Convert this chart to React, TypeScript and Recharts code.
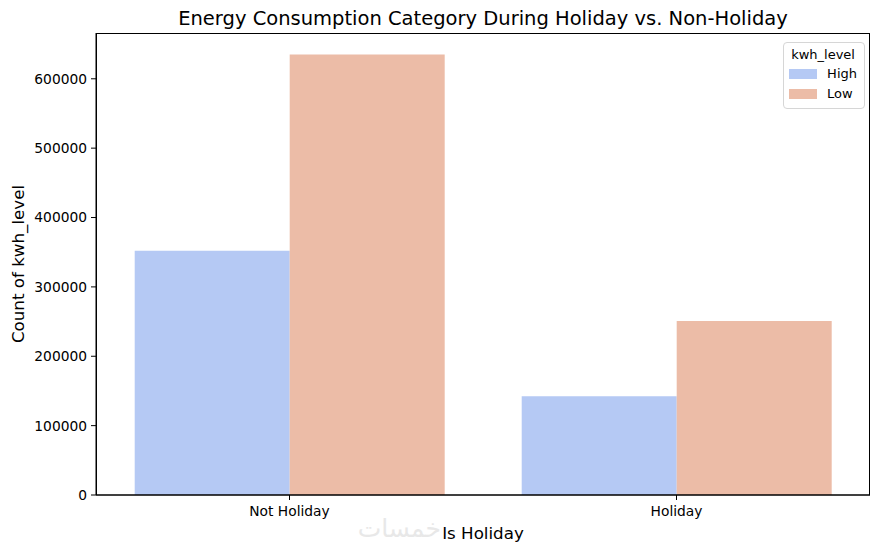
import { BarChart, Bar, XAxis, YAxis } from "recharts";

const categories = ["Not Holiday", "Holiday"];
const highCounts = [352000, 142500];
const lowCounts = [635000, 251000];
const yTicks = [0, 100000, 200000, 300000, 400000, 500000, 600000];

const series = [
  { key: "High", color: "#b5c9f4" },
  { key: "Low", color: "#ecbca7" },
];
const FONT = "DejaVu Sans, sans-serif";

const data = categories.map((c, i) => ({
  name: c,
  High: highCounts[i],
  Low: lowCounts[i],
}));

// matplotlib-like legend box
const LegendBox = () => (
  <div
    style={{
      position: "absolute",
      top: 42,
      right: 16,
      border: "1px solid #d6d6d6",
      borderRadius: 4,
      background: "rgba(255,255,255,0.8)",
      padding: "3px 7px 4px 5px",
      fontFamily: FONT,
      fontSize: 13,
      color: "#000",
    }}
  >
    <div style={{ textAlign: "center", lineHeight: "18px" }}>kwh_level</div>
    {series.map((s) => (
      <div key={s.key} style={{ display: "flex", alignItems: "center", lineHeight: "20px" }}>
        <span
          style={{
            display: "inline-block",
            width: 28,
            height: 10,
            background: s.color,
            marginRight: 10,
          }}
        />
        {s.key}
      </div>
    ))}
  </div>
);

export default function App() {
  return (
    <div style={{ position: "absolute", left: 0, top: 0, width: 881, height: 552, background: "#fff" }}>
      <BarChart
        width={881}
        height={552}
        data={data}
        margin={{ top: 33, right: 11, bottom: 27, left: 36 }}
        barCategoryGap="10%"
        barGap={0}
      >
        <XAxis
          dataKey="name"
          tickLine={{ stroke: "#000" }}
          axisLine={{ stroke: "#000" }}
          tick={{ fill: "#000", fontSize: 13.8, fontFamily: FONT }}
          tickSize={5}
          tickMargin={6}
          height={30}
        />
        <YAxis
          domain={[0, 666000]}
          ticks={yTicks}
          width={60}
          tickLine={{ stroke: "#000" }}
          axisLine={{ stroke: "#000" }}
          tick={{ fill: "#000", fontSize: 13.8, fontFamily: FONT }}
          tickSize={5}
          tickMargin={4}
          allowDataOverflow
        />
        {series.map((s) => (
          <Bar key={s.key} dataKey={s.key} fill={s.color} isAnimationActive={false} />
        ))}
      </BarChart>
      <LegendBox />
      <svg
        width={881}
        height={552}
        style={{ position: "absolute", left: 0, top: 0, pointerEvents: "none" }}
      >
        <text x={441} y={527} textAnchor="end" dominantBaseline="central" fontSize={25} fill="#e8e8e8" fontFamily="Noto Sans, DejaVu Sans, sans-serif">
          خمسات
        </text>
        <rect x={96.5} y={33.5} width={773} height={461.5} fill="none" stroke="#000" strokeWidth={1} />
        <text x={483} y={18} textAnchor="middle" dominantBaseline="central" fontSize={19.5} fontFamily={FONT} fill="#000">
          Energy Consumption Category During Holiday vs. Non-Holiday
        </text>
        <text x={483} y={533} textAnchor="middle" dominantBaseline="central" fontSize={16.7} fontFamily={FONT} fill="#000">
          Is Holiday
        </text>
        <text
          x={18}
          y={264}
          textAnchor="middle"
          dominantBaseline="central"
          fontSize={16.7}
          fontFamily={FONT}
          fill="#000"
          transform="rotate(-90 18 264)"
        >
          Count of kwh_level
        </text>
      </svg>
    </div>
  );
}
